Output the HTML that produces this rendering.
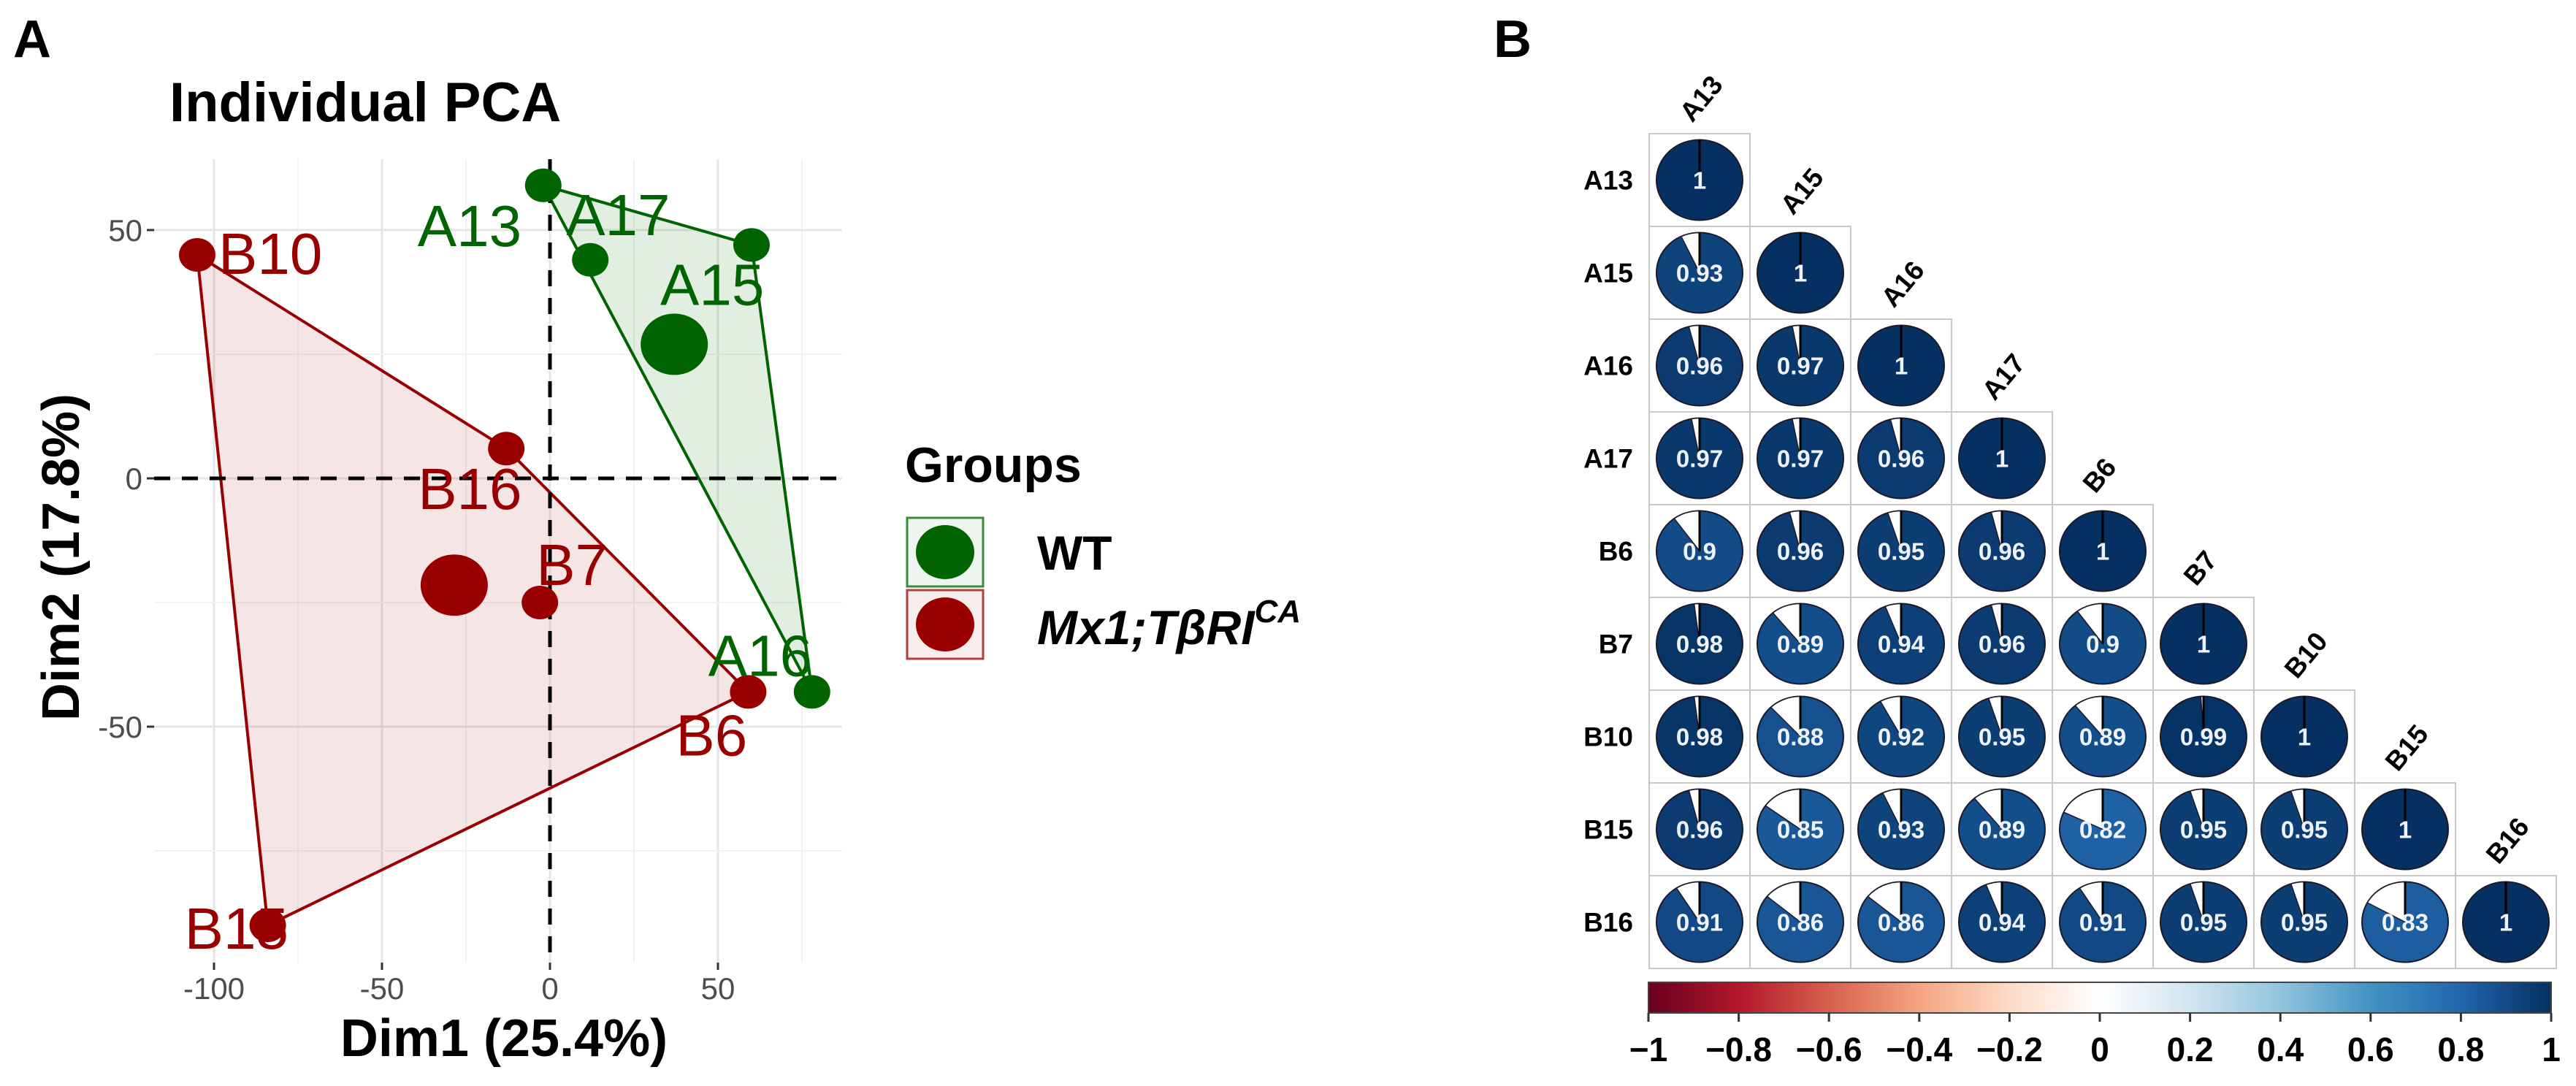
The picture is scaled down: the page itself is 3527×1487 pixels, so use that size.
<!DOCTYPE html>
<html><head><meta charset="utf-8">
<style>
html,body{margin:0;padding:0;background:#fff;}
svg{display:block;font-family:"Liberation Sans",Arial,sans-serif;}
</style></head>
<body>
<svg id="fig" width="3527" height="1487" viewBox="0 0 3527 1487" xmlns="http://www.w3.org/2000/svg">
<defs>
<linearGradient id="rdbu" x1="0" x2="1" y1="0" y2="0">
<stop offset="0" stop-color="#67001F"/><stop offset="0.1" stop-color="#B2182B"/><stop offset="0.2" stop-color="#D6604D"/><stop offset="0.3" stop-color="#F4A582"/><stop offset="0.4" stop-color="#FDDBC7"/><stop offset="0.5" stop-color="#FFFFFF"/><stop offset="0.6" stop-color="#D1E5F0"/><stop offset="0.7" stop-color="#92C5DE"/><stop offset="0.8" stop-color="#4393C3"/><stop offset="0.9" stop-color="#2166AC"/><stop offset="1" stop-color="#053061"/>
</linearGradient>
</defs>
<text x="18" y="78" font-size="72" font-weight="bold">A</text>
<text x="2045" y="78" font-size="72" font-weight="bold">B</text>
<text x="232" y="166" font-size="76" font-weight="bold">Individual PCA</text>
<g id="pca"></g>
<g id="legend">
<text x="1239" y="660" font-size="68" font-weight="bold">Groups</text>
<rect x="1242" y="709" width="104" height="94" fill="#eef5ee" stroke="#3c8a3c" stroke-width="3"/>
<ellipse cx="1294" cy="756" rx="40" ry="37" fill="#006400"/>
<rect x="1242" y="808" width="104" height="94" fill="#f7eded" stroke="#b04040" stroke-width="3"/>
<ellipse cx="1294" cy="855" rx="40" ry="37" fill="#990000"/>
<text x="1420" y="780" font-size="66" font-weight="bold">WT</text>
<text x="1420" y="882" font-size="66" font-weight="bold" font-style="italic">Mx1;TβRI<tspan font-size="44" dy="-30">CA</tspan></text>
</g>
<g id="corr"></g>
<g id="cbar"></g>
</svg>
<script>
// ---------- PCA data ----------
const sampleNames = ["A13","A17","A15","A16","B10","B16","B7","B6","B15"];
const sampleGroup = ["WT","WT","WT","WT","MX","MX","MX","MX","MX"];
const dim1 = [-2, 12, 60, 78, -105, -13, -3, 59, -84];
const dim2 = [59, 44, 47, -43, 45, 6, -25, -43, -90];
const centroidGroups = ["WT","MX"];
const centroidDim1 = [37, -28.5];
const centroidDim2 = [27, -21.5];
const xTicks = [-100, -50, 0, 50];
const yTicks = [-50, 0, 50];
// ---------- Correlation data ----------
const corrNames = ["A13","A15","A16","A17","B6","B7","B10","B15","B16"];
const corrRows = [
 [1],
 [0.93,1],
 [0.96,0.97,1],
 [0.97,0.97,0.96,1],
 [0.9,0.96,0.95,0.96,1],
 [0.98,0.89,0.94,0.96,0.9,1],
 [0.98,0.88,0.92,0.95,0.89,0.99,1],
 [0.96,0.85,0.93,0.89,0.82,0.95,0.95,1],
 [0.91,0.86,0.86,0.94,0.91,0.95,0.95,0.83,1]
];
const cbarTicks = [-1,-0.8,-0.6,-0.4,-0.2,0,0.2,0.4,0.6,0.8,1];

const NS = "http://www.w3.org/2000/svg";
function mk(tag, attrs, parent){const e=document.createElementNS(NS,tag);for(const k in attrs)e.setAttribute(k,attrs[k]);parent.appendChild(e);return e;}

// ---------- PCA ----------
const pca = document.getElementById('pca');
const PX0=211, PX1=1153, PY0=218, PY1=1318;
const X = v => 753 + 4.6*v;
const Y = v => 655 - 6.8*v;
const colors = {WT:"#006400", MX:"#990000"};
const fills = {WT:"rgba(0,100,0,0.11)", MX:"rgba(153,0,0,0.10)"};

// gridlines
for (let v=-125; v<=100; v+=25){ const x=X(v); if(x<PX0||x>PX1) continue;
  const g=mk('line',{x1:x,x2:x,y1:PY0,y2:PY1,stroke:(v%50===0)?"#e6e6e6":"#f2f2f2","stroke-width":(v%50===0)?3:2},pca);
    }
for (let v=-100; v<=75; v+=25){ const y=Y(v); if(y<PY0||y>PY1) continue;
  const g=mk('line',{x1:PX0,x2:PX1,y1:y,y2:y,stroke:(v%50===0)?"#e6e6e6":"#f2f2f2","stroke-width":(v%50===0)?3:2},pca);
    }

// convex hulls
function hull(pts){pts=pts.slice().sort((a,b)=>a[0]-b[0]||a[1]-b[1]);const cr=(o,a,b)=>(a[0]-o[0])*(b[1]-o[1])-(a[1]-o[1])*(b[0]-o[0]);
 const lo=[],up=[];for(const p of pts){while(lo.length>=2&&cr(lo[lo.length-2],lo[lo.length-1],p)<=0)lo.pop();lo.push(p);}
 for(const p of pts.slice().reverse()){while(up.length>=2&&cr(up[up.length-2],up[up.length-1],p)<=0)up.pop();up.push(p);}
 return lo.slice(0,-1).concat(up.slice(0,-1));}
["MX","WT"].forEach(gr=>{
  const pts=[];sampleNames.forEach((n,i)=>{if(sampleGroup[i]===gr)pts.push([X(dim1[i]),Y(dim2[i])]);});
  const h=hull(pts);
  const p=mk('polygon',{points:h.map(q=>q.join(',')).join(' '),fill:fills[gr],stroke:colors[gr],"stroke-width":4,"stroke-linejoin":"round"},pca);
  
  
});

// zero lines
const zx=mk('line',{x1:X(0),x2:X(0),y1:PY0,y2:PY1,stroke:"#000","stroke-width":5,"stroke-dasharray":"22 16"},pca);
 
const zy=mk('line',{x1:PX0,x2:PX1,y1:Y(0),y2:Y(0),stroke:"#000","stroke-width":5,"stroke-dasharray":"22 16"},pca);
 

// points
sampleNames.forEach((n,i)=>{
  const c=mk('ellipse',{cx:X(dim1[i]),cy:Y(dim2[i]),rx:25,ry:23,fill:colors[sampleGroup[i]]},pca);
  
  
});
centroidGroups.forEach((g,i)=>{
  const c=mk('ellipse',{cx:X(centroidDim1[i]),cy:Y(centroidDim2[i]),rx:46,ry:42,fill:colors[g]},pca);
  
  
});
// labels (offsets are styling)
const labelOffsets = {A13:[-172,83],A17:[-33,-34],A15:[-125,82],A16:[-142,-22],B10:[29,26],B16:[-121,83],B7:[-5,-24],B6:[-99,87],B15:[-114,32]};
sampleNames.forEach((n,i)=>{
  const o=labelOffsets[n];
  const t=mk('text',{x:X(dim1[i])+o[0],y:Y(dim2[i])+o[1],"font-size":80,fill:colors[sampleGroup[i]],transform:""},pca);
  t.textContent=n;
  
  
});
// ticks
xTicks.forEach(v=>{
  const t=mk('line',{x1:X(v),x2:X(v),y1:PY1,y2:PY1+10,stroke:"#333","stroke-width":3},pca);
   
  const l=mk('text',{x:X(v),y:PY1+50,"font-size":42,fill:"#4d4d4d","text-anchor":"middle"},pca);
  l.textContent=String(v);
   
});
yTicks.forEach(v=>{
  const t=mk('line',{x1:PX0-10,x2:PX0,y1:Y(v),y2:Y(v),stroke:"#333","stroke-width":3},pca);
   
  const l=mk('text',{x:PX0-16,y:Y(v)+15,"font-size":42,fill:"#4d4d4d","text-anchor":"end"},pca);
  l.textContent=String(v);
   
});
const xt=mk('text',{x:690,y:1446,"font-size":72,"font-weight":"bold","text-anchor":"middle"},pca);
xt.textContent="Dim1 (25.4%)";
 
const yt=mk('text',{x:0,y:0,"font-size":72,"font-weight":"bold","text-anchor":"middle",transform:"translate(108,763) rotate(-90)"},pca);
yt.textContent="Dim2 (17.8%)";
 

// ---------- Correlation ----------
const corr=document.getElementById('corr');
const GX=2258, GY=183, CW=138, CH=127, RX=59, RY=55;
const stops=["#67001F","#B2182B","#D6604D","#F4A582","#FDDBC7","#FFFFFF","#D1E5F0","#92C5DE","#4393C3","#2166AC","#053061"];
function hex(h){return [1,3,5].map(i=>parseInt(h.substr(i,2),16));}
function colorOf(v){const t=(v+1)/2*10;const i=Math.min(9,Math.floor(t));const f=t-i;const a=hex(stops[i]),b=hex(stops[i+1]);
  return 'rgb('+a.map((c,k)=>Math.round(c+(b[k]-c)*f)).join(',')+')';}
corrNames.forEach((n,r)=>{
  const l=mk('text',{x:GX-22,y:GY+r*CH+CH/2+13,"font-size":37,"font-weight":"bold","text-anchor":"end"},corr);
  l.textContent=n;
   
  const cx=GX+r*CW+CW/2, top=GY+r*CH-14;
  const cl=mk('text',{x:0,y:0,"font-size":37,"font-weight":"bold",transform:`translate(${cx-10},${top}) rotate(-50)`},corr);
  cl.textContent=n;
   
});
corrRows.forEach((row,r)=>{
  row.forEach((v,c)=>{
    const x=GX+c*CW, y=GY+r*CH;
    const cell=mk('rect',{x:x,y:y,width:CW,height:CH,fill:"none",stroke:"#c8c8c8","stroke-width":2},corr);
    
    
    const cx=x+CW/2, cy=y+CH/2;
    const e=mk('ellipse',{cx:cx,cy:cy,rx:RX,ry:RY,fill:colorOf(v),stroke:"#1a1a2a","stroke-width":2},corr);
    
    
    const frac=1-v;
    if(frac>0.001){
      const th=-frac*2*Math.PI;
      const ex=cx+RX*Math.sin(th), ey=cy-RY*Math.cos(th);
      const w=mk('path',{d:`M${cx},${cy} L${cx},${cy-RY} A${RX},${RY} 0 ${frac>0.5?1:0} 0 ${ex},${ey} Z`,fill:"#fff",stroke:"#1a1a2a","stroke-width":1.5},corr);
       
    }
    const ln=mk('line',{x1:cx,y1:cy,x2:cx,y2:cy-RY,stroke:"#000","stroke-width":3},corr);
     
    const t=mk('text',{x:cx,y:cy+12,"font-size":33,"font-weight":"bold",fill:"#eef2f8","text-anchor":"middle"},corr);
    t.textContent=String(v);
     
  });
});

// ---------- Colorbar ----------
const cbar=document.getElementById('cbar');
const CB0=2257, CB1=3493, CBY=1345, CBH=42;
const CBX = v => CB0 + (v+1)/2*(CB1-CB0);
const bar=mk('rect',{x:CB0,y:CBY,width:CB1-CB0,height:CBH,fill:"url(#rdbu)",stroke:"#444","stroke-width":2},cbar);
 
cbarTicks.forEach(v=>{
  const t=mk('line',{x1:CBX(v),x2:CBX(v),y1:CBY+CBH,y2:CBY+CBH+12,stroke:"#333","stroke-width":3},cbar);
   
  const l=mk('text',{x:CBX(v),y:1453,"font-size":46,"font-weight":"bold","text-anchor":"middle"},cbar);
  l.textContent=(v<0?"\u2212":"")+String(Math.abs(v));
   
});
</script>
</body></html>
